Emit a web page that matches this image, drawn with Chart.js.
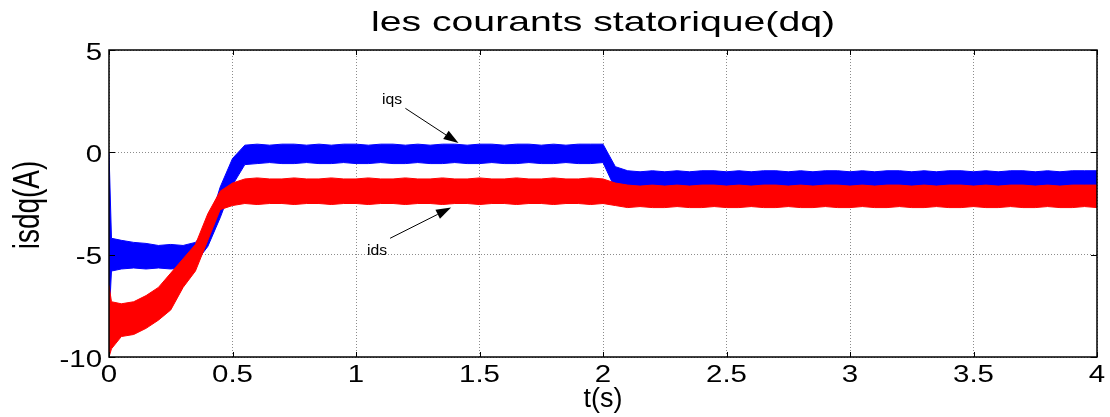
<!DOCTYPE html>
<html>
<head>
<meta charset="utf-8">
<script src="https://cdn.jsdelivr.net/npm/chart.js@4.4.1/dist/chart.umd.min.js"></script>
<style>
  html, body { margin: 0; padding: 0; background: #fff; }
  #wrap { width: 1110px; height: 417px; }
</style>
</head>
<body>
<div id="wrap"><canvas id="isdq"></canvas></div>
<script>
Chart.defaults.font.family = "'Liberation Sans', Arial, sans-serif";
Chart.defaults.plugins.legend.display = false;
Chart.defaults.plugins.tooltip.enabled = false;

/* ── data: envelope of the noisy currents ── */
const T = [0, 0.01,
  0.05, 0.10, 0.15, 0.20, 0.25, 0.30, 0.35, 0.40, 0.45, 0.50,
  0.55, 0.60, 0.65, 0.70, 0.75, 0.80, 0.85, 0.90, 0.95, 1.00,
  1.05, 1.10, 1.15, 1.20, 1.25, 1.30, 1.35, 1.40, 1.45, 1.50,
  1.55, 1.60, 1.65, 1.70, 1.75, 1.80, 1.85, 1.90, 1.95, 2.00,
  2.05, 2.10, 2.15, 2.20, 2.25, 2.30, 2.35, 2.40, 2.45, 2.50,
  2.55, 2.60, 2.65, 2.70, 2.75, 2.80, 2.85, 2.90, 2.95, 3.00,
  3.05, 3.10, 3.15, 3.20, 3.25, 3.30, 3.35, 3.40, 3.45, 3.50,
  3.55, 3.60, 3.65, 3.70, 3.75, 3.80, 3.85, 3.90, 3.95, 4.00];

const IQS_HI = [0, -4.2,
  -4.3, -4.4, -4.45, -4.55, -4.5, -4.55, -4.4, -3.7, -1.7, -0.3,
  0.35, 0.4, 0.35, 0.4, 0.4, 0.35, 0.4, 0.35, 0.4, 0.4,
  0.35, 0.4, 0.4, 0.35, 0.4, 0.35, 0.4, 0.4, 0.35, 0.4,
  0.4, 0.35, 0.4, 0.4, 0.35, 0.4, 0.35, 0.4, 0.4, 0.4,
  -0.7, -0.9, -0.95, -0.9, -0.95, -0.9, -0.95, -0.9, -0.9, -0.95,
  -0.9, -0.95, -0.9, -0.9, -0.95, -0.9, -0.95, -0.9, -0.9, -0.95,
  -0.9, -0.95, -0.9, -0.9, -0.95, -0.9, -0.95, -0.9, -0.9, -0.95,
  -0.9, -0.95, -0.9, -0.9, -0.95, -0.9, -0.95, -0.9, -0.9, -0.9];

const IQS_LO = [-8.2, -5.8,
  -5.7, -5.65, -5.7, -5.65, -5.7, -5.65, -5.4, -4.6, -3.2, -1.6,
  -0.6, -0.55, -0.5, -0.55, -0.55, -0.5, -0.55, -0.55, -0.5, -0.55,
  -0.55, -0.5, -0.55, -0.55, -0.5, -0.55, -0.55, -0.5, -0.55, -0.55,
  -0.5, -0.55, -0.55, -0.5, -0.55, -0.55, -0.5, -0.55, -0.55, -0.5,
  -1.8, -1.95, -2.0, -1.95, -1.95, -2.0, -1.95, -1.95, -2.0, -1.95,
  -1.95, -2.0, -1.95, -1.95, -2.0, -1.95, -1.95, -2.0, -1.95, -1.95,
  -2.0, -1.95, -1.95, -2.0, -1.95, -1.95, -2.0, -1.95, -1.95, -2.0,
  -1.95, -1.95, -2.0, -1.95, -1.95, -2.0, -1.95, -1.95, -2.0, -1.95];

const IDS_HI = [-6.5, -7.3,
  -7.4, -7.3, -7.0, -6.6, -5.9, -5.2, -4.5, -3.0, -1.9, -1.5,
  -1.3, -1.25, -1.3, -1.3, -1.25, -1.3, -1.3, -1.25, -1.3, -1.3,
  -1.25, -1.3, -1.3, -1.25, -1.3, -1.3, -1.25, -1.3, -1.3, -1.25,
  -1.3, -1.3, -1.25, -1.3, -1.3, -1.25, -1.3, -1.3, -1.25, -1.3,
  -1.5, -1.6, -1.65, -1.6, -1.65, -1.6, -1.65, -1.6, -1.6, -1.65,
  -1.6, -1.65, -1.6, -1.6, -1.65, -1.6, -1.65, -1.6, -1.6, -1.65,
  -1.6, -1.65, -1.6, -1.6, -1.65, -1.6, -1.65, -1.6, -1.6, -1.65,
  -1.6, -1.65, -1.6, -1.6, -1.65, -1.6, -1.65, -1.6, -1.6, -1.6];

const IDS_LO = [-10, -9.6,
  -9.0, -8.9, -8.6, -8.2, -7.7, -6.6, -5.8, -4.3, -2.8, -2.6,
  -2.5, -2.55, -2.5, -2.5, -2.55, -2.5, -2.5, -2.55, -2.5, -2.5,
  -2.55, -2.5, -2.5, -2.55, -2.5, -2.5, -2.55, -2.5, -2.5, -2.55,
  -2.5, -2.5, -2.55, -2.5, -2.5, -2.55, -2.5, -2.5, -2.55, -2.5,
  -2.6, -2.7, -2.65, -2.7, -2.7, -2.65, -2.7, -2.7, -2.65, -2.7,
  -2.7, -2.65, -2.7, -2.7, -2.65, -2.7, -2.7, -2.65, -2.7, -2.7,
  -2.65, -2.7, -2.7, -2.65, -2.7, -2.7, -2.65, -2.7, -2.7, -2.65,
  -2.7, -2.7, -2.65, -2.7, -2.7, -2.65, -2.7, -2.7, -2.65, -2.7];

const X_TICKS = [0, 0.5, 1, 1.5, 2, 2.5, 3, 3.5, 4];
const X_LABELS = ['0', '0.5', '1', '1.5', '2', '2.5', '3', '3.5', '4'];
const Y_TICKS = [-10, -5, 0, 5];
const Y_LABELS = ['-10', '-5', '0', '5'];

const TITLE = 'les courants statorique(dq)';
const X_TITLE = 't(s)';
const Y_TITLE = 'isdq(A)';

const pts = ys => T.map((t, i) => ({ x: t, y: ys[i] }));

const BLUE = '#0000ff', RED = '#ff0000';

/* text is drawn a bit wide, like the MATLAB export */
function wideText(ctx, text, x, y, sx, align, font) {
  ctx.save();
  ctx.translate(x, y);
  ctx.scale(sx, 1);
  ctx.font = font;
  ctx.fillStyle = '#000';
  ctx.textAlign = align;
  ctx.textBaseline = 'alphabetic';
  ctx.fillText(text, 0, 0);
  ctx.restore();
}

function arrow(ctx, x1, y1, x2, y2) {
  const a = Math.atan2(y2 - y1, x2 - x1), len = 15, w = 5;
  const bx = x2 - len * Math.cos(a), by = y2 - len * Math.sin(a);
  ctx.save();
  ctx.strokeStyle = '#000'; ctx.fillStyle = '#000'; ctx.lineWidth = 1;
  ctx.beginPath(); ctx.moveTo(x1, y1); ctx.lineTo(bx, by); ctx.stroke();
  ctx.beginPath();
  ctx.moveTo(x2, y2);
  ctx.lineTo(bx + w * Math.sin(a), by - w * Math.cos(a));
  ctx.lineTo(bx - w * Math.sin(a), by + w * Math.cos(a));
  ctx.closePath(); ctx.fill();
  ctx.restore();
}

const matlabFrame = {
  id: 'matlabFrame',
  afterDatasetsDraw(chart) {
    const { ctx, chartArea: a, scales: { x, y } } = chart;
    // box
    ctx.save();
    ctx.strokeStyle = '#000';
    ctx.lineWidth = 1.5;
    ctx.strokeRect(a.left, a.top, a.right - a.left, a.bottom - a.top);
    // inner tick marks
    ctx.lineWidth = 1;
    ctx.beginPath();
    X_TICKS.forEach(v => {
      const px = Math.round(x.getPixelForValue(v)) + 0.5;
      ctx.moveTo(px, a.bottom); ctx.lineTo(px, a.bottom - 5);
      ctx.moveTo(px, a.top); ctx.lineTo(px, a.top + 5);
    });
    Y_TICKS.forEach(v => {
      const py = Math.round(y.getPixelForValue(v)) + 0.5;
      ctx.moveTo(a.left, py); ctx.lineTo(a.left + 6, py);
      ctx.moveTo(a.right, py); ctx.lineTo(a.right - 6, py);
    });
    ctx.stroke();
    ctx.restore();

    // tick labels
    const tickFont = "23px 'Liberation Sans', Arial, sans-serif";
    X_TICKS.forEach((v, i) => wideText(ctx, X_LABELS[i], x.getPixelForValue(v), 382, 1.28, 'center', tickFont));
    Y_TICKS.forEach((v, i) => wideText(ctx, Y_LABELS[i], a.left - 7, y.getPixelForValue(v) + 9.5, 1.28, 'right', tickFont));

    // titles
    wideText(ctx, TITLE, (a.left + a.right) / 2, 31, 1.4, 'center', "28px 'Liberation Sans', Arial, sans-serif");
    wideText(ctx, X_TITLE, (a.left + a.right) / 2, 407, 1.0, 'center', "27px 'Liberation Sans', Arial, sans-serif");
    ctx.save();
    ctx.translate(39, 205);
    ctx.scale(1.35, 1);
    ctx.rotate(-Math.PI / 2);
    ctx.font = "28px 'Liberation Sans', Arial, sans-serif";
    ctx.fillStyle = '#000';
    ctx.textAlign = 'center';
    ctx.textBaseline = 'alphabetic';
    ctx.fillText(Y_TITLE, 0, 0);
    ctx.restore();

    // annotations
    const annFont = "15px 'Liberation Sans', Arial, sans-serif";
    wideText(ctx, 'iqs', x.getPixelForValue(1.146), y.getPixelForValue(2.35), 1.05, 'center', annFont);
    arrow(ctx, x.getPixelForValue(1.2), y.getPixelForValue(2.15), x.getPixelForValue(1.415), y.getPixelForValue(0.45));
    wideText(ctx, 'ids', x.getPixelForValue(1.085), y.getPixelForValue(-5.0), 1.05, 'center', annFont);
    arrow(ctx, x.getPixelForValue(1.138), y.getPixelForValue(-4.2), x.getPixelForValue(1.385), y.getPixelForValue(-2.7));
  },
};

const band = (data, color, fill) => ({
  data, borderColor: color, backgroundColor: color,
  borderWidth: 1, pointRadius: 0, tension: 0, fill,
});

new Chart(document.getElementById('isdq'), {
  type: 'line',
  data: {
    datasets: [
      band(pts(IDS_HI), RED, '+1'),
      band(pts(IDS_LO), RED, false),
      band(pts(IQS_HI), BLUE, '+1'),
      band(pts(IQS_LO), BLUE, false),
    ],
  },
  options: {
    responsive: true, maintainAspectRatio: false, animation: false,
    layout: { padding: { left: 0, right: 13, top: 50, bottom: 0 } },
    scales: {
      x: {
        type: 'linear', min: 0, max: 4,
        afterBuildTicks: s => { s.ticks = X_TICKS.map(v => ({ value: v })); },
        afterFit: s => { s.height = 60; },
        ticks: { display: false },
        grid: { color: 'rgba(0,0,0,0.45)', lineWidth: 1, drawTicks: false },
        border: { display: false, dash: [1, 2] },
      },
      y: {
        type: 'linear', min: -10, max: 5,
        afterBuildTicks: s => { s.ticks = Y_TICKS.map(v => ({ value: v })); },
        afterFit: s => { s.width = 109; },
        ticks: { display: false },
        grid: { color: 'rgba(0,0,0,0.45)', lineWidth: 1, drawTicks: false },
        border: { display: false, dash: [1, 2] },
      },
    },
  },
  plugins: [matlabFrame],
});
</script>
</body>
</html>
